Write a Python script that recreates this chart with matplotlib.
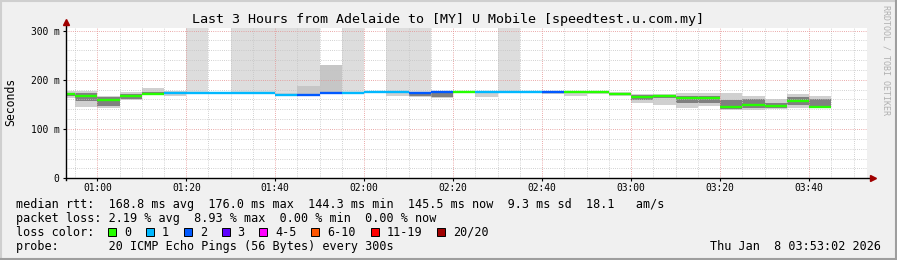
import matplotlib

matplotlib.use('Agg')
import matplotlib.pyplot as plt
from matplotlib.patches import Rectangle

# 5-minute slots (start time), median rtt in ms and lost pings per slot
slots = ['00:50', '00:55', '01:00', '01:05', '01:10', '01:15', '01:20', '01:25', '01:30', '01:35',
         '01:40', '01:45', '01:50', '01:55', '02:00', '02:05', '02:10', '02:15', '02:20', '02:25',
         '02:30', '02:35', '02:40', '02:45', '02:50', '02:55', '03:00', '03:05', '03:10', '03:15',
         '03:20', '03:25', '03:30', '03:35', '03:40']
median = [171, 167, 159, 167, 172, 173, 173, 173, 173, 173,
          170, 170, 173, 173, 176, 176, 173, 176, 176, 176,
          176, 176, 176, 176, 176, 172, 165, 168, 163, 163,
          144.3, 148, 146.6, 156, 145.5]
loss = [0, 0, 0, 0, 0, 1, 1, 1, 1, 1,
        1, 2, 2, 1, 1, 1, 2, 2, 0, 1,
        1, 1, 2, 0, 0, 0, 0, 0, 0, 0,
        0, 0, 0, 0, 0]
# smoke: outer (light) band and inner (dark) band
smoke_lo = [163, 145, 142, 158, 170, 167, 173, 173, 173, 173,
            168, 170, 173, 173, 176, 168, 165, 163, 176, 165,
            176, 176, 172, 167, 172, 168, 152, 148, 142, 146,
            138, 138, 140, 142, 142]
smoke_hi = [177, 178, 168, 175, 184, 177, 173, 173, 173, 173,
            173, 170, 173, 173, 176, 176, 173, 178, 176, 176,
            176, 176, 176, 176, 176, 176, 172, 172, 173, 173,
            174, 167, 160, 172, 168]
core_lo = [167, 156, 147, 161, 172, 171, 173, 173, 173, 173,
           170, 170, 173, 173, 176, 176, 167, 165, 176, 176,
           176, 176, 176, 176, 176, 172, 158, 163, 152, 153,
           141, 143, 143, 148, 145]
core_hi = [173, 174, 166, 172, 176, 175, 173, 173, 173, 173,
           170, 170, 173, 173, 176, 176, 173, 176, 176, 176,
           176, 176, 176, 176, 176, 174, 170, 170, 168, 168,
           158, 160, 152, 165, 160]
# a few pings far above the median
mid_spike = [0, 0, 0, 0, 0, 0, 0, 0, 0, 0,
             0, 188, 229, 0, 0, 0, 0, 0, 0, 0,
             0, 0, 0, 0, 0, 0, 0, 0, 0, 0,
             0, 0, 0, 0, 0]
off_scale = [0, 0, 0, 0, 0, 0, 1, 0, 1, 1,
             1, 1, 0, 1, 0, 1, 1, 0, 0, 0,
             1, 0, 0, 0, 0, 0, 0, 0, 0, 0,
             0, 0, 0, 0, 0]

loss_labels = ['0', '1', '2', '3', '4-5', '6-10', '11-19', '20/20']
loss_colors = ['#26ff00', '#00b8ff', '#0059ff', '#5e00ff', '#ff00ff', '#ff5500', '#ff0000', '#a00000']

x_ticks = ['01:00', '01:20', '01:40', '02:00', '02:20', '02:40', '03:00', '03:20', '03:40']

W, H = 897, 260
MONO = 'DejaVu Sans Mono'


def minutes(s):
    h, m = s.split(':')
    return int(h) * 60 + int(m)


def fx(x):
    return x / W


def fy(y):
    return 1 - y / H


fig = plt.figure(figsize=(W / 100, H / 100), dpi=100, facecolor='#f0f0f0')
ax = fig.add_axes([fx(66.3), fy(178.3), fx(867 - 66.3), (178.3 - 27.7) / H])
ax.set_facecolor('white')
x0 = 53 + 2 / 60
ax.set_xlim(x0, x0 + 180)
ax.set_ylim(0, 305.7)

starts = [minutes(s) for s in slots]
for i, t in enumerate(starts):
    if off_scale[i]:
        ax.bar(t, 400 - median[i], bottom=median[i], width=5, align='edge', color='#dddddd', lw=0, zorder=1)
    if mid_spike[i]:
        ax.bar(t, mid_spike[i] - median[i], bottom=median[i], width=5, align='edge', color='#c6c6c6', lw=0, zorder=1.1)
    ax.bar(t, smoke_hi[i] - smoke_lo[i], bottom=smoke_lo[i], width=5, align='edge', color='#d0d0d0', lw=0, zorder=1.2)
    ax.bar(t, core_hi[i] - core_lo[i], bottom=core_lo[i], width=5, align='edge', color='#808080', lw=0, zorder=1.3)

# grid (drawn over the smoke like rrdtool)
dots = (0, (0.72, 1.44))
for t in range(55, 235, 5):
    major = (t % 20 == 0)
    ax.axvline(t, color='#e49090' if major else '#c4c4c4', lw=0.72, ls=dots, zorder=2)
for v in range(20, 301, 20):
    major = (v % 100 == 0)
    ax.axhline(v, color='#e49090' if major else '#c4c4c4', lw=0.72, ls=dots, zorder=2)

for i, t in enumerate(starts):
    ax.hlines(median[i], t, t + 5, colors=loss_colors[loss[i]], lw=1.7, zorder=3, capstyle='butt')

for s in ax.spines.values():
    s.set_visible(False)
# axes with arrows
ax.plot([0, 1.006], [0, 0], transform=ax.transAxes, color='black', lw=1, clip_on=False, zorder=4)
ax.plot([0, 0], [-0.01, 1.03], transform=ax.transAxes, color='black', lw=1, clip_on=False, zorder=4)
ax.plot([1.008], [0], transform=ax.transAxes, marker='>', ms=5, color='#a00000', clip_on=False, zorder=5)
ax.plot([0], [1.035], transform=ax.transAxes, marker='^', ms=5, color='#a00000', clip_on=False, zorder=5)

ax.set_xticks([minutes(s) for s in x_ticks])
ax.set_xticklabels(x_ticks, fontfamily=MONO, fontsize=6.9)
ax.set_yticks([0, 100, 200, 300])
ax.set_yticklabels(['0', '100 m', '200 m', '300 m'], fontfamily=MONO, fontsize=6.9)
ax.tick_params(axis='x', length=2, width=0.8, pad=1.5, colors='black')
ax.tick_params(axis='y', length=2, width=0.8, pad=3, colors='black')

fig.text(fx(447.5), fy(19), 'Last 3 Hours from Adelaide to [MY] U Mobile [speedtest.u.com.my]',
         fontfamily=MONO, fontsize=9.6, ha='center', va='center')
fig.text(fx(11), fy(102), 'Seconds', fontfamily=MONO, fontsize=8.3, rotation=90, ha='center', va='center')
fig.text(fx(886), fy(5), 'RRDTOOL / TOBI OETIKER', fontfamily=MONO, fontsize=6, rotation=270,
         ha='center', va='top', color='#b0b0b0')

lines = [
    'median rtt:  168.8 ms avg  176.0 ms max  144.3 ms min  145.5 ms now  9.3 ms sd  18.1   am/s',
    'packet loss: 2.19 % avg  8.93 % max  0.00 % min  0.00 % now',
    'loss color:',
    'probe:       20 ICMP Echo Pings (56 Bytes) every 300s',
]
for k, line in enumerate(lines):
    fig.text(fx(16), fy(204.3 + 14 * k), line, fontfamily=MONO, fontsize=8.5, ha='left', va='center')

cw = 7.14
bx = 108
for lab, col in zip(loss_labels, loss_colors):
    fig.patches.append(Rectangle((fx(bx), fy(236)), fx(8), 8 / H, transform=fig.transFigure,
                                 facecolor=col, edgecolor='black', lw=0.7))
    fig.text(fx(bx + 16), fy(232.3), lab, fontfamily=MONO, fontsize=8.5, ha='left', va='center')
    bx += cw * (len(lab) + 4.3)

fig.text(fx(881), fy(246.3), 'Thu Jan  8 03:53:02 2026', fontfamily=MONO, fontsize=8.5, ha='right', va='center')

# frame
fig.add_artist(plt.Line2D([0, 1], [fy(1), fy(1)], color='#cfcfcf', lw=1.5))
fig.add_artist(plt.Line2D([fx(1), fx(1)], [0, 1], color='#cfcfcf', lw=1.5))
fig.add_artist(plt.Line2D([0, 1], [fy(259), fy(259)], color='#9e9e9e', lw=1.5))
fig.add_artist(plt.Line2D([fx(896), fx(896)], [0, 1], color='#9e9e9e', lw=1.5))

fig.savefig('out.png', dpi=100, facecolor=fig.get_facecolor())
